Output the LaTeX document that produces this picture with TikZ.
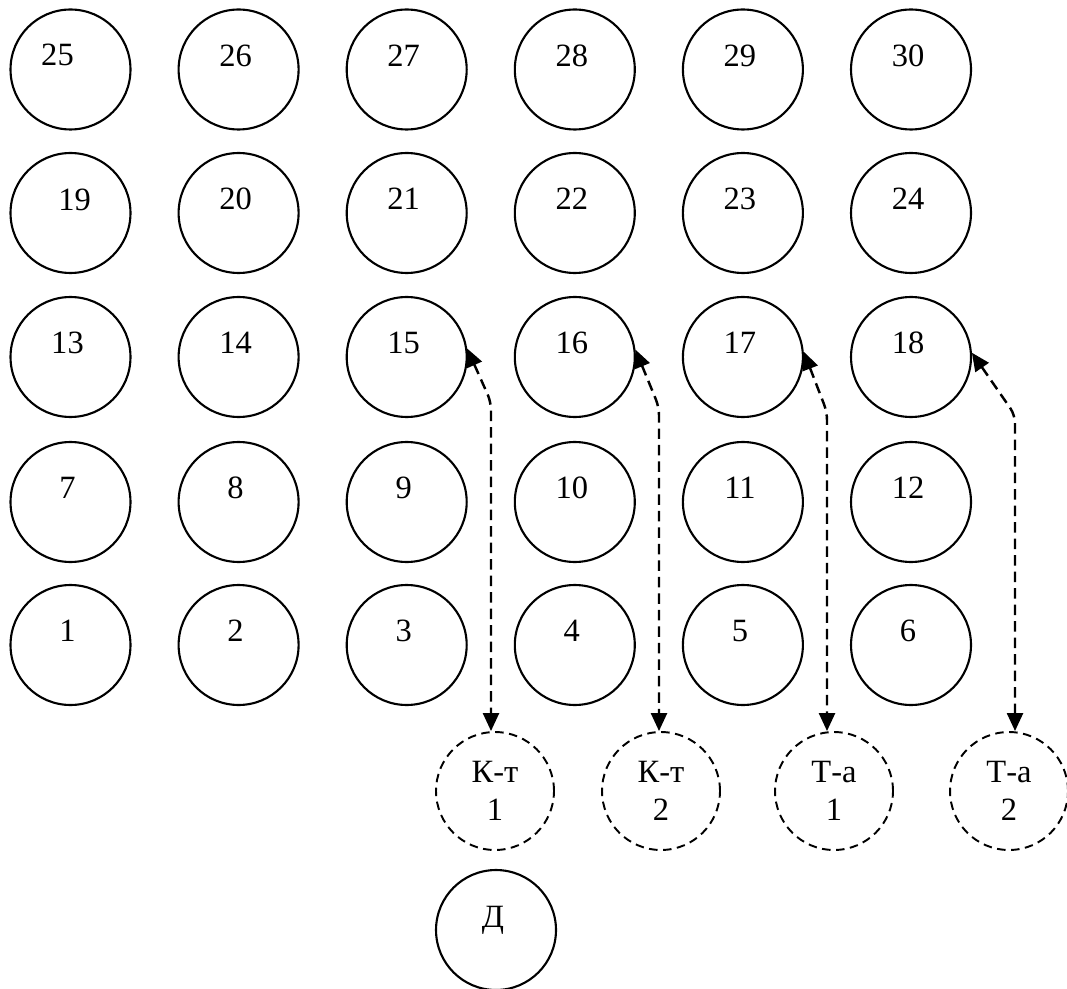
\documentclass[tikz,border=0pt]{standalone}
\usepackage{fontspec}
\setmainfont{Liberation Serif}
\usetikzlibrary{arrows.meta,calc}
\begin{document}
\begin{tikzpicture}[x=0.02cm,y=-0.02cm,
  posbox/.style={draw,circle,minimum size=2.4cm,inner sep=0pt,line width=1.2pt},
  dposbox/.style={draw,circle,minimum size=2.36cm,inner sep=0pt,line width=1.1pt,dash pattern=on 0.17cm off 0.11cm,align=center,font=\fontsize{18.5}{22}\selectfont},
  numtext/.style={inner sep=0pt,font=\fontsize{18.5}{22}\selectfont},
  linkline/.style={line width=1.4pt,dash pattern=on 0.21cm off 0.12cm,rounded corners=0.16cm,
    {Triangle[length=0.36cm,width=0.32cm]}-{Triangle[length=0.36cm,width=0.32cm]}}]
\useasboundingbox (0,0) rectangle (1067,989);
% grid of positions
\foreach \r/\y in {0/645,1/502,2/357,3/213,4/69.5}{
  \foreach \c/\x in {1/70.5,2/238.6,3/406.7,4/574.8,5/742.9,6/911}{
    \pgfmathtruncatemacro{\n}{\r*6+\c}
    \node[posbox] (c\n) at (\x,\y) {};
  }
}
% labels
\foreach \n in {1,...,30}{
  \ifnum\n=25
    \node[numtext] (t\n) at ($(c\n)+(-13,-15)$) {\n};
  \else\ifnum\n=19
    \node[numtext] (t\n) at ($(c\n)+(4,-13)$) {\n};
  \else
    \node[numtext] (t\n) at ($(c\n)+(-3,-14)$) {\n};
  \fi\fi
}
% dashed units
\node[dposbox] (k1) at (495,791) {К-т\\1};
\node[dposbox] (k2) at (661,791) {К-т\\2};
\node[dposbox] (t1) at (834,791) {Т-а\\1};
\node[dposbox] (t2) at (1009,791) {Т-а\\2};
% D
\node[posbox] (d) at (496,930) {};
\node[numtext] (dl) at (493,920) {Д};
% bend points
\coordinate (b1) at (491,402);
\coordinate (b2) at (659,407);
\coordinate (b3) at (827,412);
\coordinate (b4) at (1015,415);
% connectors
\draw[linkline] (c15.8) -- (b1) -- (b1 |- k1.north);
\draw[linkline] (c16.7) -- (b2) -- (b2 |- k2.north);
\draw[linkline] (c17.5) -- (b3) -- (b3 |- t1.north);
\draw[linkline] (c18.4) -- (b4) -- (b4 |- t2.north);
\end{tikzpicture}
\end{document}
